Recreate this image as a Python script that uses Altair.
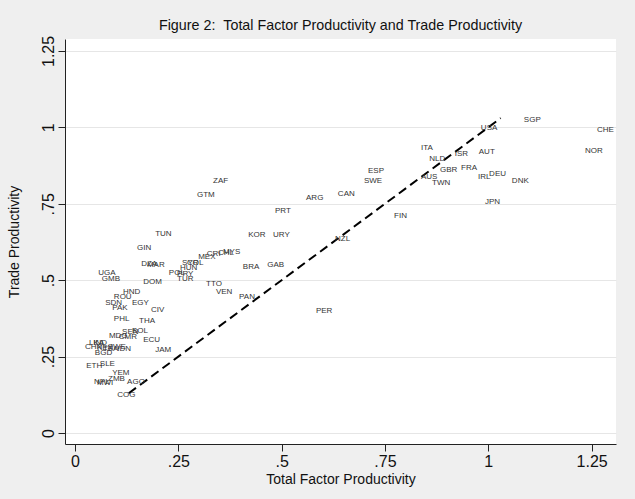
import altair as alt
import pandas as pd

countries = ["SGP","USA","CHE","NOR","ITA","NLD","ISR","AUT","GBR","FRA","AUS","TWN","IRL","DEU","DNK","JPN","FIN",
             "ESP","SWE","CAN","ARG","PRT","NZL","PER","ZAF","GTM","KOR","URY","BRA","GAB","MEX","CRI","CHL","MYS",
             "SYR","COL","HUN","POL","PRY","TUR","DZA","MAR","GIN","TUN","UGA","GMB","DOM","HND","ROU","SDN","PAK",
             "EGY","CIV","PHL","THA","TTO","VEN","PAN","BOL","SEN","MDG","CMR","ECU","JAM","IDN","LKA","IND","CHN",
             "KEN","TZA","ZWE","BGD","ETH","SLE","YEM","NPL","ZMB","MWI","AGO","COG"]
tfp = [1.086,0.982,1.263,1.234,0.837,0.857,0.919,0.977,0.883,0.934,0.837,0.864,0.975,1.002,1.057,0.992,0.772,
       0.709,0.699,0.636,0.559,0.484,0.629,0.583,0.334,0.295,0.419,0.479,0.406,0.465,0.298,0.319,0.346,0.358,
       0.259,0.271,0.254,0.227,0.247,0.247,0.160,0.174,0.150,0.194,0.056,0.065,0.165,0.116,0.094,0.073,0.090,
       0.138,0.184,0.094,0.155,0.317,0.341,0.397,0.138,0.114,0.082,0.106,0.165,0.194,0.102,0.034,0.044,0.024,
       0.053,0.068,0.080,0.048,0.027,0.060,0.090,0.046,0.080,0.053,0.126,0.102]
trade = [1.024,0.998,0.991,0.923,0.933,0.897,0.913,0.920,0.861,0.867,0.838,0.818,0.838,0.848,0.825,0.756,0.710,
         0.857,0.825,0.782,0.769,0.726,0.635,0.399,0.825,0.779,0.648,0.648,0.543,0.550,0.576,0.586,0.589,0.592,
         0.556,0.556,0.540,0.524,0.520,0.504,0.553,0.550,0.605,0.651,0.524,0.504,0.494,0.461,0.445,0.425,0.409,
         0.425,0.402,0.373,0.366,0.488,0.461,0.445,0.334,0.330,0.317,0.314,0.304,0.272,0.275,0.295,0.295,0.281,
         0.278,0.275,0.281,0.262,0.219,0.226,0.196,0.167,0.177,0.164,0.167,0.124]

line_x = [0.13, 1.03]
line_y = [0.13, 1.03]

x_ticks = [0, 0.25, 0.5, 0.75, 1, 1.25]
y_ticks = [0, 0.25, 0.5, 0.75, 1, 1.25]

df = pd.DataFrame({"country": countries, "tfp": tfp, "trade": trade})
df_line = pd.DataFrame({"x": line_x, "y": line_y})

label_expr = "datum.value > 0 && datum.value < 1 ? substring(format(datum.value, '.2~f'), 1) : format(datum.value, '.2~f')"

xscale = alt.Scale(domain=[-0.0242, 1.309], nice=False, zero=False)
yscale = alt.Scale(domain=[-0.036, 1.289], nice=False, zero=False)

xaxis = alt.Axis(values=x_ticks, labelExpr=label_expr, title="Total Factor Productivity", grid=False,
                 labelFontSize=16, titleFontSize=14, tickSize=7, labelPadding=2, titlePadding=3,
                 domainColor="#222", tickColor="#222", labelColor="#111", titleColor="#111",
                 titleFontWeight="normal", labelFont="Liberation Sans", titleFont="Liberation Sans")
yaxis = alt.Axis(values=y_ticks, labelExpr=label_expr, title="Trade Productivity", grid=True,
                 gridColor="#e6e6e6", labelFontSize=16, titleFontSize=14, tickSize=7, labelPadding=2,
                 labelAngle=270, labelAlign="center", labelBaseline="bottom", titlePadding=19,
                 domainColor="#222", tickColor="#222", labelColor="#111", titleColor="#111",
                 titleFontWeight="normal", labelFont="Liberation Sans", titleFont="Liberation Sans")

labels = alt.Chart(df).mark_text(align="left", baseline="middle", fontSize=8, font="Liberation Sans",
                                  color="#333").encode(
    x=alt.X("tfp:Q", scale=xscale, axis=xaxis),
    y=alt.Y("trade:Q", scale=yscale, axis=yaxis),
    text="country:N",
)

line = alt.Chart(df_line).mark_line(color="black", strokeWidth=2, strokeDash=[9, 5]).encode(
    x=alt.X("x:Q", scale=xscale),
    y=alt.Y("y:Q", scale=yscale),
)

chart = alt.layer(line, labels).properties(
    width=551, height=405,
    title=alt.TitleParams("Figure 2:\u00a0\u00a0Total Factor Productivity and Trade Productivity", fontSize=14.3,
                          font="Liberation Sans", fontWeight="normal", color="#111", anchor="middle",
                          frame="group", offset=2),
    autosize=alt.AutoSizeParams(type="none"),
    padding={"left": 65, "top": 39, "right": 19, "bottom": 55},
).configure(background="#efefef").configure_view(fill="white", stroke=None)

chart.save("out.html", embed_options={"renderer": "svg", "actions": False})
